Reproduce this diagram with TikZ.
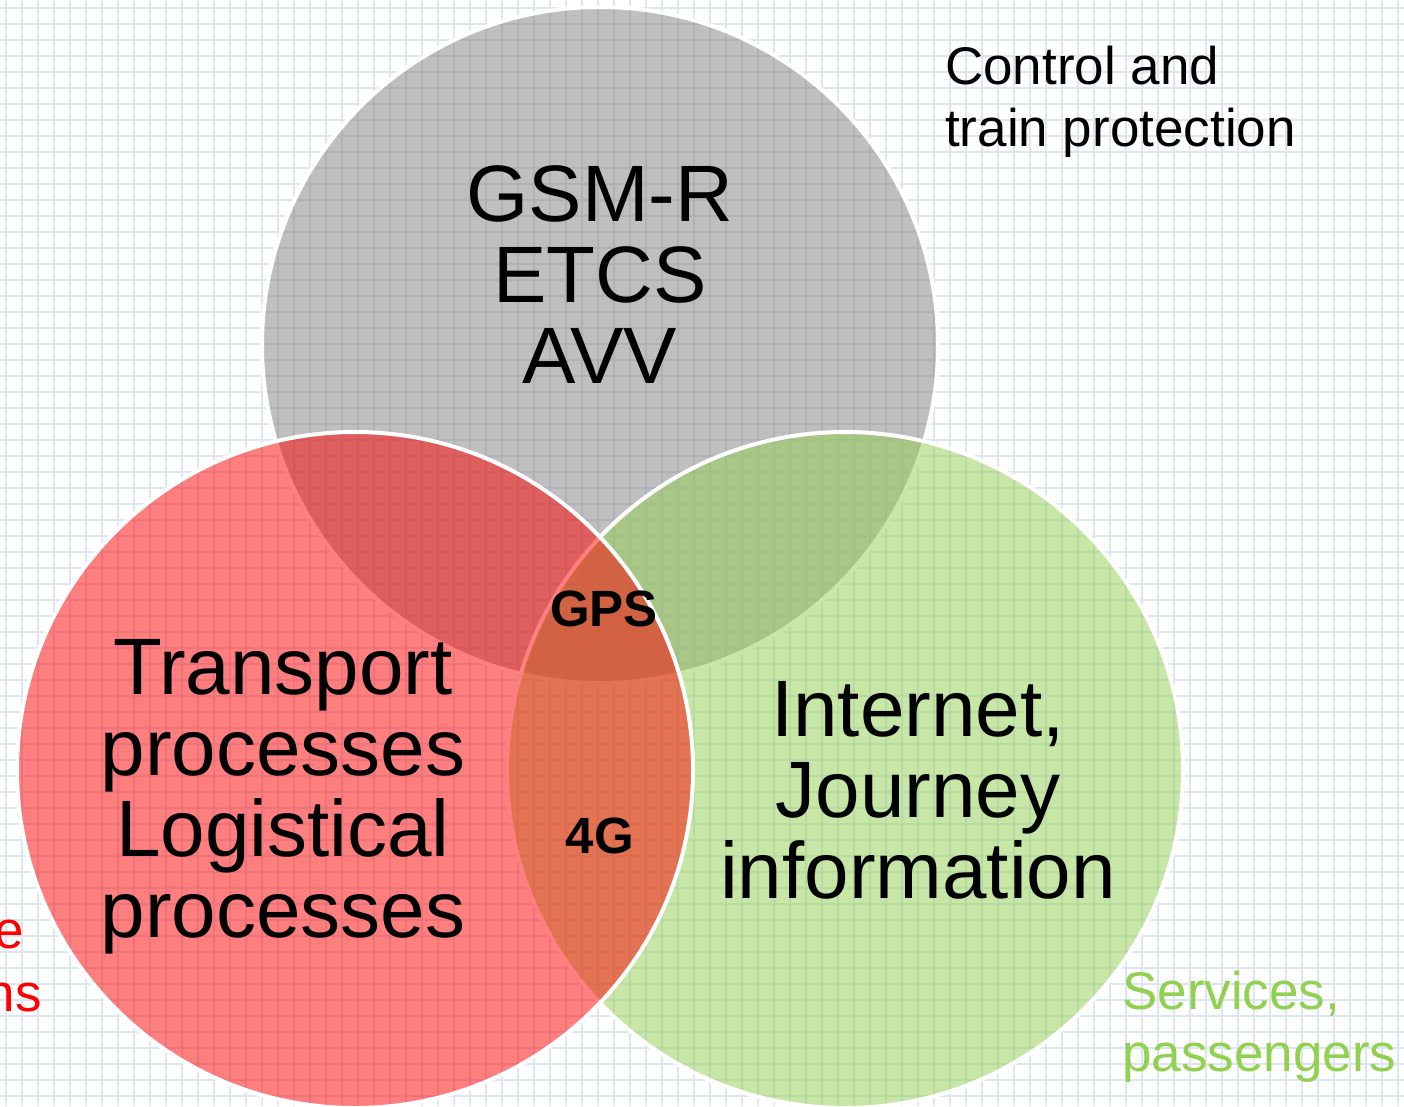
\documentclass[tikz,border=0pt]{standalone}
\usepackage{fontspec}
\setmainfont{Liberation Sans}
\definecolor{gridblue}{RGB}{220,230,243}
\definecolor{vgray}{RGB}{128,128,128}
\definecolor{vred}{RGB}{255,0,0}
\definecolor{vgreen}{RGB}{146,208,80}

\begin{document}
\begin{tikzpicture}[x=1pt,y=-1pt]
                \tikzset{venn/.style={circle, minimum size=676pt, inner sep=0pt,
                draw=white, line width=4pt, fill opacity=0.5},
                bigtext/.style={font=\fontsize{80}{81}\selectfont, align=center, inner sep=0pt},
                sidetext/.style={font=\fontsize{53}{62}\selectfont, align=left, inner sep=0pt},
                smalltext/.style={font=\bfseries\fontsize{51}{60}\selectfont, inner sep=0pt}}

                \fill[white] (0,0) rectangle (1404,1106);
                \useasboundingbox (0,0) rectangle (1404,1106);
                \foreach \x in {5.5,21.5,...,1404} \draw[gridblue, line width=2pt] (\x,0) -- (\x,1106);
                \foreach \y in {8,24,...,1106} \draw[gridblue, line width=2pt] (0,\y) -- (1404,\y);

                \node[venn, fill=vgray] (gsm) at (600,345) {};
                \node[venn, fill=vgreen] (services) at (845,770) {};
                \node[venn, fill=vred] (transport) at (355,770) {};

                \node[bigtext] (gsmtext) at (600,275) {GSM-R\\ETCS\\AVV};
                \node[bigtext] (transporttext) at (283,797) {Transport\\processes\\Logistical\\processes};
                \node[bigtext] (internettext) at (918,790) {Internet,\\Journey\\information};
                \node[smalltext] (gps) at (604,609) {GPS};
                \node[smalltext] (fourg) at (600,836) {4G};

                \node[sidetext, anchor=north west] (control) at (945,46) {Control and\\train protection};
                \node[sidetext, anchor=north west, text=vgreen] (passengers) at (1122,971) {Services,\\passengers};
                \node[sidetext, anchor=base east, text=vred] (infraA) at (24,948) {e};
                \node[sidetext, anchor=base east, text=vred] (infraB) at (42,1011) {ns};
\end{tikzpicture}
\end{document}
